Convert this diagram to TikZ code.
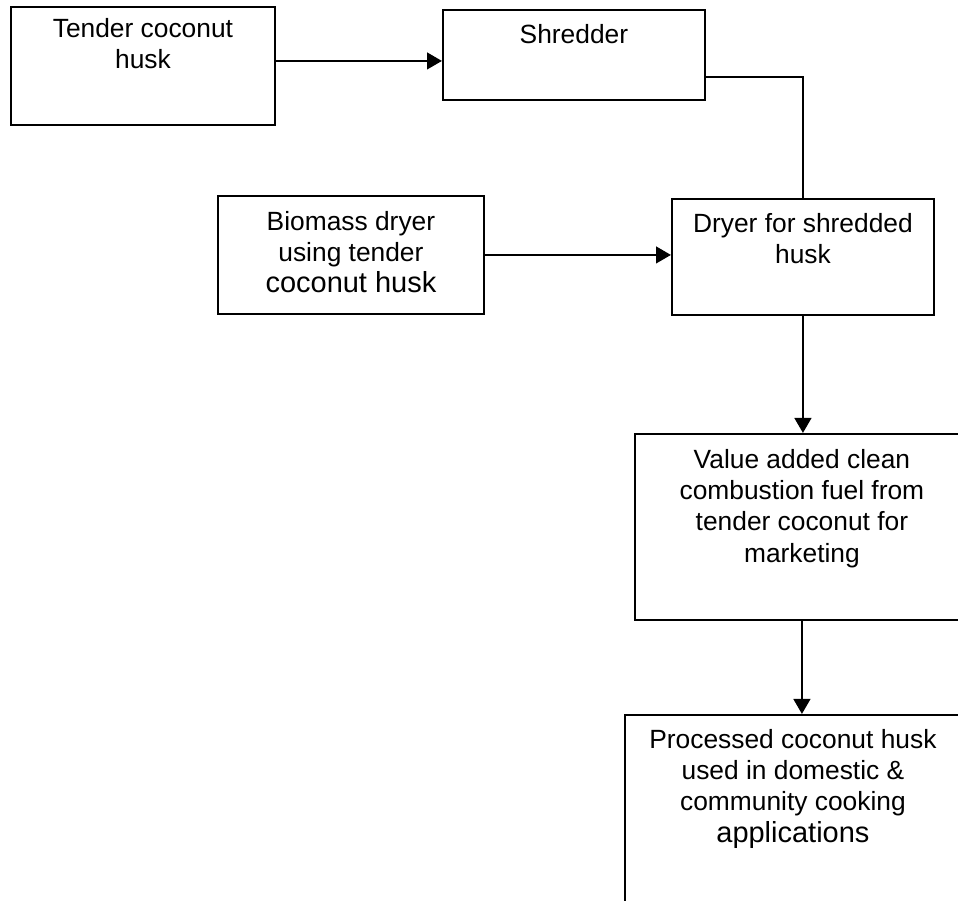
\documentclass[tikz,border=0pt]{standalone}
\usepackage{fontspec}
\setmainfont{Liberation Sans}
\usetikzlibrary{arrows.meta}

\begin{document}
\begin{tikzpicture}[x=0.02cm,y=-0.02cm,
    stage/.style={draw,line width=1.1pt,anchor=north west,inner sep=0pt,
        font=\fontsize{15}{17.8}\selectfont},
    flow/.style={line width=1.6pt,-{Triangle[length=0.3cm,width=0.33cm]}}]
    \useasboundingbox (0,0) rectangle (958,901);
    \clip (0,0) rectangle (958,901);

    % top row
    \node[stage] (husk) at (10,6)
        {\parbox[t][2.36cm][t]{5.28cm}{\centering\rule{0pt}{17.5pt}Tender coconut\\husk}};
    \node[stage] (shred) at (442,9)
        {\parbox[t][1.8cm][t]{5.24cm}{\centering\rule{0pt}{19pt}Shredder}};

    % drying
    \node[stage] (biomass) at (217,195)
        {\parbox[t][2.36cm][t]{5.32cm}{\centering\rule{0pt}{19.5pt}Biomass dryer\\using tender\\{\fontsize{16.5}{17.8}\selectfont coconut husk}}};
    \node[stage] (dryer) at (671,198)
        {\parbox[t][2.32cm][t]{5.24cm}{\centering\rule{0pt}{19pt}Dryer for shredded\\husk}};

    % products
    \node[stage] (fuel) at (634,433)
        {\parbox[t][3.72cm][t]{6.68cm}{\centering\rule{0pt}{19.5pt}Value added clean\\combustion fuel from\\tender coconut for\\marketing}};
    \node[stage] (cooking) at (624,714)
        {\parbox[t][4.4cm][t]{6.72cm}{\centering\rule{0pt}{19pt}Processed coconut husk\\used in domestic \&\\community cooking\\{\fontsize{16.5}{17.8}\selectfont applications}}};

    % connectors
    \draw[flow] ([yshift=0.1cm]husk.east) -- ([yshift=0.1cm]husk.east -| shred.west);
    \draw[line width=1.1pt] ([yshift=-0.44cm]shred.east) -| (dryer.north);
    \draw[flow] (biomass.east) -- (biomass.east -| dryer.west);
    \draw[flow] (dryer.south) -- (dryer.south |- fuel.north);
    \draw[flow] (fuel.south) -- (fuel.south |- cooking.north);
\end{tikzpicture}
\end{document}
